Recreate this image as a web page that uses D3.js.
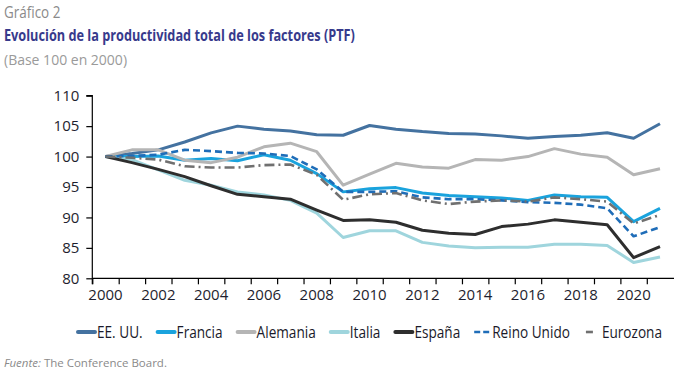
<!DOCTYPE html>
<html>
<head>
<meta charset="utf-8">
<script src="https://cdn.jsdelivr.net/npm/d3@7"></script>
<style>
  html, body { margin: 0; padding: 0; background: #fff; }
  svg { display: block; }
</style>
</head>
<body>
<svg id="chart" width="674" height="379"></svg>
<script>
// ---- data ----
const years = [2000,2001,2002,2003,2004,2005,2006,2007,2008,2009,2010,2011,2012,2013,2014,2015,2016,2017,2018,2019,2020,2021];
const seriesNames = ["EE. UU.", "Francia", "Alemania", "Italia", "España", "Reino Unido", "Eurozona"];
const eeuu      = [100,100.5,101.1,102.4,103.9,105.0,104.5,104.2,103.6,103.5,105.1,104.5,104.1,103.8,103.7,103.4,103.0,103.3,103.5,103.9,103.0,105.4];
const francia   = [100,100.0,100.1,99.4,99.7,99.3,100.3,99.4,97.2,94.2,94.7,94.9,94.0,93.6,93.4,93.2,92.8,93.7,93.4,93.3,89.3,91.5];
const alemania  = [100,101.1,101.1,99.4,99.0,99.9,101.6,102.2,100.8,95.3,97.1,98.9,98.3,98.1,99.5,99.4,100.0,101.3,100.4,99.9,97.0,98.0];
const italia    = [100,99.5,97.8,96.1,95.3,94.2,93.7,92.8,90.7,86.7,87.8,87.8,85.9,85.3,85.0,85.1,85.1,85.6,85.6,85.4,82.6,83.5];
const espana    = [100,99.0,97.9,96.7,95.2,93.8,93.4,93.0,91.2,89.5,89.6,89.2,87.9,87.4,87.2,88.5,88.9,89.6,89.2,88.8,83.4,85.2];
const reinoUnido= [100,100.1,100.3,101.1,100.9,100.6,100.5,100.1,97.9,94.2,94.2,94.3,93.3,93.0,93.0,92.8,92.5,92.4,92.1,91.5,86.9,88.4];
const eurozona  = [100,99.8,99.5,98.4,98.2,98.2,98.6,98.7,97.0,92.9,93.8,94.0,92.8,92.2,92.6,92.8,92.6,93.3,93.0,92.6,89.0,90.4];
const yTicks = [80,85,90,95,100,105,110];
const xLabelYears = [2000,2002,2004,2006,2008,2010,2012,2014,2016,2018,2020];
const titleLine1 = "Gráfico 2";
const titleLine2 = "Evolución de la productividad total de los factores (PTF)";
const titleLine3 = "(Base 100 en 2000)";
const sourceLabel = "Fuente:";
const sourceText = " The Conference Board.";

// ---- styles ----
const styles = {
  "EE. UU.":     {color: "#4472a0", width: 3, dash: null},
  "Francia":     {color: "#1aa3dd", width: 3, dash: null},
  "Alemania":    {color: "#b5b5b5", width: 3, dash: null},
  "Italia":      {color: "#9fd5dd", width: 3, dash: null},
  "España":      {color: "#2e2e2e", width: 3, dash: null},
  "Reino Unido": {color: "#1f6db8", width: 2.6, dash: "7,4"},
  "Eurozona":    {color: "#707070", width: 2.6, dash: "10,4,2,4"}
};
const values = [eeuu, francia, alemania, italia, espana, reinoUnido, eurozona];
const series = seriesNames.map((n, i) => ({name: n, values: values[i].map((v, j) => ({year: years[j], v}))}));

const svg = d3.select("#chart");
const mLeft = 92.3, mRight = 673.2, mTop = 95.7, mBottom = 278.3;

const x = d3.scaleBand().domain(years).range([mLeft, mRight]).padding(0);
const y = d3.scaleLinear().domain([80, 110]).range([mBottom, mTop]);
const cx = d => x(d) + x.bandwidth() / 2;

const tickFont = "'Open Sans', 'Segoe UI', sans-serif";
const narrowFont = "'Open Sans', sans-serif";

// emulate a condensed face by compressing glyphs horizontally
function condense(sel, f) {
  const w = sel.node().getComputedTextLength();
  sel.attr("textLength", w * f).attr("lengthAdjust", "spacingAndGlyphs");
  return w * f;
}

// titles
condense(svg.append("text").attr("x", 4).attr("y", 18).text(titleLine1)
  .attr("font-family", narrowFont).attr("font-size", 16).attr("fill", "#8a8a8a"), 0.84);
condense(svg.append("text").attr("x", 4).attr("y", 41).text(titleLine2)
  .attr("font-family", narrowFont).attr("font-weight", "bold").attr("font-size", 16).attr("fill", "#373a8c"), 0.795);
svg.append("text").attr("x", 4).attr("y", 65).text(titleLine3)
  .attr("font-family", tickFont).attr("font-size", 14).attr("fill", "#9a9a9a");

// y axis
const yAxis = d3.axisLeft(y).tickValues(yTicks).tickSize(6).tickPadding(7);
const gy = svg.append("g").attr("transform", `translate(${mLeft},0)`).call(yAxis);
gy.select(".domain").attr("stroke", "#000").attr("stroke-width", 1.2).attr("d", `M-6,${mTop}H0V${mBottom + 6}`);
gy.selectAll(".tick line").attr("stroke", "#000").attr("stroke-width", 1.2);
gy.selectAll(".tick text").attr("font-family", tickFont).attr("font-size", 15).attr("fill", "#1e1e2e");

// x axis: boundary ticks
const xb = d3.scaleLinear().domain([0, years.length]).range([mLeft, mRight]);
const xAxisTicks = d3.axisBottom(xb).tickValues(d3.range(0, years.length)).tickSize(6).tickFormat("");
const gx = svg.append("g").attr("transform", `translate(0,${mBottom})`).call(xAxisTicks);
gx.select(".domain").attr("stroke", "#000").attr("stroke-width", 1.2).attr("d", `M${mLeft},0H${mRight + 1}`);
gx.selectAll(".tick line").attr("stroke", "#000").attr("stroke-width", 1.2);

// x labels centered in bands
const xLabelAxis = d3.axisBottom(x).tickValues(xLabelYears).tickSize(0).tickPadding(11);
const gxl = svg.append("g").attr("transform", `translate(0,${mBottom})`).call(xLabelAxis);
gxl.select(".domain").remove();
gxl.selectAll(".tick text").attr("font-family", tickFont).attr("font-size", 15).attr("fill", "#1e1e2e");

// lines
const line = d3.line().x(d => cx(d.year)).y(d => y(d.v));
svg.append("g").selectAll("path").data(series).join("path")
  .attr("d", d => line(d.values))
  .attr("fill", "none")
  .attr("stroke", d => styles[d.name].color)
  .attr("stroke-width", d => styles[d.name].width)
  .attr("stroke-dasharray", d => styles[d.name].dash)
  .attr("stroke-linejoin", "round");

// legend
const legend = svg.append("g");
let lx = 77;
const ly = 332;
series.forEach(s => {
  const st = styles[s.name];
  const g = legend.append("g");
  let tx;
  if (s.name === "Reino Unido") {
    g.append("line").attr("x1", lx).attr("x2", lx + 16).attr("y1", ly).attr("y2", ly)
      .attr("stroke", st.color).attr("stroke-width", 2.6).attr("stroke-dasharray", "6,3");
    tx = lx + 18;
  } else if (s.name === "Eurozona") {
    g.append("line").attr("x1", lx + 2).attr("x2", lx + 9).attr("y1", ly).attr("y2", ly)
      .attr("stroke", st.color).attr("stroke-width", 2.6);
    tx = lx + 18;
  } else {
    g.append("line").attr("x1", lx + 1).attr("x2", lx + 18).attr("y1", ly).attr("y2", ly)
      .attr("stroke", st.color).attr("stroke-width", 4).attr("stroke-linecap", "round");
    tx = lx + 20;
  }
  const t = g.append("text").attr("x", tx).attr("y", ly + 5.5).text(s.name)
    .attr("font-family", narrowFont).attr("font-size", 16).attr("fill", "#1a1a2a");
  const w = condense(t, 0.85);
  lx = tx + w + 14;
});

// source
const src = svg.append("text").attr("x", 4).attr("y", 367)
  .attr("font-family", tickFont).attr("font-size", 11.5).attr("fill", "#8a8a8a");
src.append("tspan").attr("font-style", "italic").text(sourceLabel);
src.append("tspan").text(sourceText);
</script>
</body>
</html>
